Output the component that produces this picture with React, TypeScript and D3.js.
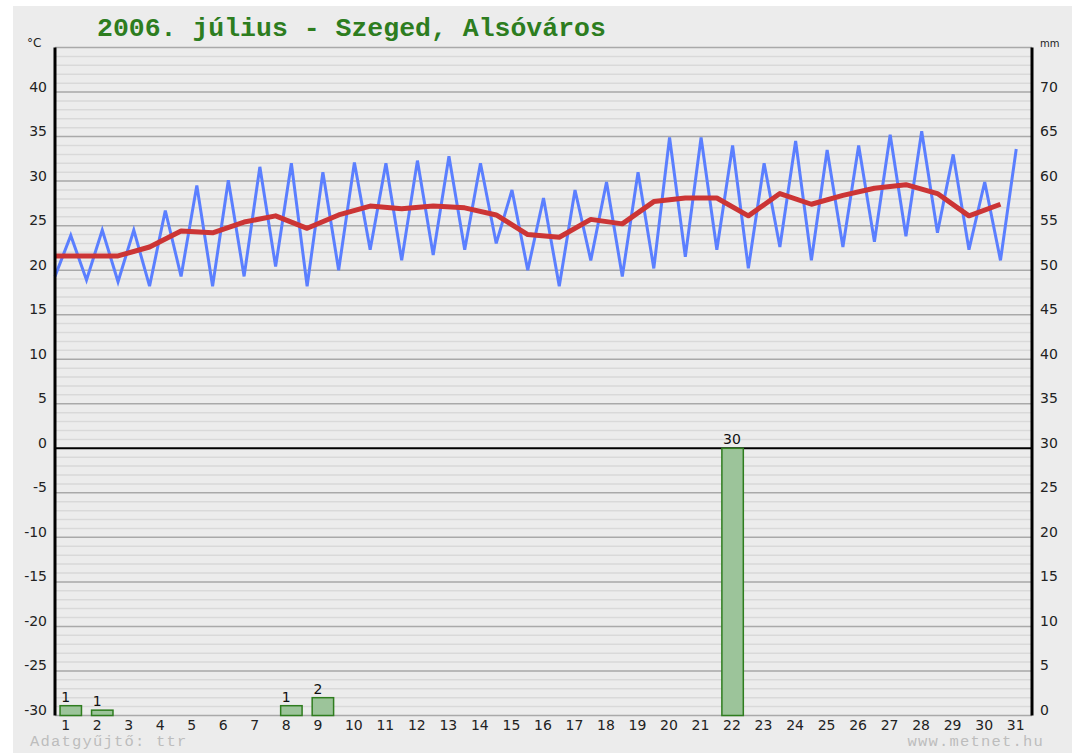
import React, { useEffect, useRef } from "react";
import * as d3 from "d3";

// 2006. július, Szeged Alsóváros - napi adatok
const days = [1, 2, 3, 4, 5, 6, 7, 8, 9, 10, 11, 12, 13, 14, 15, 16, 17, 18, 19, 20, 21, 22, 23, 24, 25, 26, 27, 28, 29, 30, 31];
const tMin = [19.3, 18.9, 18.7, 18.2, 19.3, 18.2, 19.3, 20.4, 18.2, 20.0, 22.3, 21.1, 21.7, 22.3, 23.0, 20.0, 18.2, 21.1, 19.3, 20.2, 21.5, 22.3, 20.2, 22.6, 21.1, 22.6, 23.2, 23.8, 24.2, 22.3, 21.1];
const tMax = [23.9, 24.5, 24.5, 26.7, 29.5, 30.1, 31.6, 32.0, 31.0, 32.1, 32.0, 32.3, 32.8, 32.0, 29.0, 28.1, 29.0, 29.9, 31.0, 34.9, 34.9, 34.0, 32.0, 34.5, 33.5, 34.0, 35.2, 35.6, 33.0, 29.9, 33.6];
const tMean = [21.6, 21.6, 21.6, 22.6, 24.4, 24.2, 25.4, 26.1, 24.7, 26.2, 27.2, 26.9, 27.2, 27.0, 26.2, 24.0, 23.7, 25.7, 25.2, 27.7, 28.1, 28.1, 26.1, 28.6, 27.4, 28.4, 29.2, 29.6, 28.6, 26.1, 27.4];
const rain = [1.1, 0.6, 0, 0, 0, 0, 0, 1.1, 2.0, 0, 0, 0, 0, 0, 0, 0, 0, 0, 0, 0, 0, 30.0, 0, 0, 0, 0, 0, 0, 0, 0, 0];

const tempTicks = [-30, -25, -20, -15, -10, -5, 0, 5, 10, 15, 20, 25, 30, 35, 40];
const rainTicks = [0, 5, 10, 15, 20, 25, 30, 35, 40, 45, 50, 55, 60, 65, 70];

const title = "2006. július - Szeged, Alsóváros";

function App() {
    const ref = useRef(null);

    useEffect(() => {
        const width = 1080;
        const height = 753;
        const plotLeft = 55;
        const plotRight = 1032;
        const plotTop = 47.5;
        const plotBottom = 715.5;

        const svg = d3.select(ref.current);
        svg.selectAll("*").remove();

        svg.append("rect").attr("width", width).attr("height", height).attr("fill", "#ffffff");
        svg.append("rect")
            .attr("x", 13).attr("y", 6)
            .attr("width", 1059).attr("height", height - 6)
            .attr("fill", "#ececec");

        const x = d3.scaleBand().domain(days).range([plotLeft, plotRight]);
        const y = d3.scaleLinear([-30, 45], [plotBottom, plotTop]);
        const yR = d3.scaleLinear([0, 75], [plotBottom, plotTop]);
        const bw = x.bandwidth();

        // grid
        const grid = svg.append("g");
        grid.selectAll(".minor")
            .data(d3.range(-30, 46).filter(v => v % 5 !== 0))
            .enter().append("line")
            .attr("x1", plotLeft).attr("x2", plotRight)
            .attr("y1", d => y(d)).attr("y2", d => y(d))
            .attr("stroke", "#d9d9d9").attr("stroke-width", 1.5);
        grid.selectAll(".major")
            .data(d3.range(-30, 46, 5).filter(v => v !== 0))
            .enter().append("line")
            .attr("x1", plotLeft).attr("x2", plotRight)
            .attr("y1", d => y(d)).attr("y2", d => y(d))
            .attr("stroke", "#a9a9a9").attr("stroke-width", 1.5);
        grid.append("line")
            .attr("x1", plotLeft).attr("x2", plotRight)
            .attr("y1", y(0)).attr("y2", y(0))
            .attr("stroke", "#000").attr("stroke-width", 2);

        // csapadék
        const rainData = days.map((d, i) => ({ day: d, mm: rain[i] })).filter(d => d.mm > 0);
        const barW = bw * 0.68;
        svg.append("g").selectAll("rect")
            .data(rainData)
            .enter().append("rect")
            .attr("x", d => x(d.day) + (bw - barW) / 2)
            .attr("y", d => yR(d.mm))
            .attr("width", barW)
            .attr("height", d => yR(0) - yR(d.mm))
            .attr("fill", "#9cc49a")
            .attr("stroke", "#2f7d1f")
            .attr("stroke-width", 1.5);
        svg.append("g").selectAll("text")
            .data(rainData)
            .enter().append("text")
            .attr("x", d => x(d.day) + bw / 2 - 9.5)
            .attr("y", d => yR(d.mm) - 4)
            .attr("font-family", "DejaVu Sans")
            .attr("font-size", 14)
            .attr("fill", "#111")
            .text(d => Math.round(d.mm));

        // hőmérséklet
        const zigzag = [];
        days.forEach((d, i) => {
            zigzag.push([x(d), tMin[i]]);
            zigzag.push([x(d) + bw / 2, tMax[i]]);
        });
        const line = d3.line().x(d => d[0]).y(d => y(d[1]));
        svg.append("path")
            .attr("fill", "none")
            .attr("stroke", "#5b7fff")
            .attr("stroke-width", 3)
            .attr("stroke-linejoin", "miter")
            .attr("d", line(zigzag));

        svg.append("path")
            .attr("fill", "none")
            .attr("stroke", "#cc3535")
            .attr("stroke-width", 5)
            .attr("stroke-linejoin", "round")
            .attr("d", line(days.map((d, i) => [x(d), tMean[i]])));

        // tengelyek
        svg.append("line")
            .attr("x1", plotLeft).attr("x2", plotLeft)
            .attr("y1", plotTop).attr("y2", plotBottom)
            .attr("stroke", "#000").attr("stroke-width", 3);
        svg.append("line")
            .attr("x1", plotRight).attr("x2", plotRight)
            .attr("y1", plotTop).attr("y2", plotBottom)
            .attr("stroke", "#000").attr("stroke-width", 3);

        const leftAxis = svg.append("g")
            .attr("transform", "translate(47,0)")
            .call(d3.axisLeft(y).tickValues(tempTicks).tickSize(0).tickPadding(0).tickFormat(d => String(d)));
        leftAxis.select(".domain").remove();
        leftAxis.selectAll("text").attr("dy", -1);

        const rightAxis = svg.append("g")
            .attr("transform", "translate(1040,0)")
            .call(d3.axisRight(yR).tickValues(rainTicks).tickSize(0).tickPadding(0).tickFormat(d => String(d)));
        rightAxis.select(".domain").remove();
        rightAxis.selectAll("text").attr("dy", -1);

        const bottomAxis = svg.append("g")
            .attr("transform", `translate(0,${plotBottom})`)
            .call(d3.axisBottom(x).tickSize(0).tickPadding(0));
        bottomAxis.select(".domain").remove();
        bottomAxis.selectAll("text")
            .attr("text-anchor", "start")
            .attr("x", -9.5)
            .attr("y", 14.5)
            .attr("dy", 0);

        svg.selectAll(".tick text")
            .attr("font-family", "DejaVu Sans")
            .attr("font-size", 14)
            .attr("fill", "#222");

        // feliratok
        svg.append("text")
            .attr("x", 97).attr("y", 36)
            .attr("font-family", "Liberation Mono")
            .attr("font-weight", "bold")
            .attr("font-size", 26.5)
            .attr("fill", "#2d7d1f")
            .text(title);
        svg.append("text")
            .attr("x", 27).attr("y", 47)
            .attr("font-family", "DejaVu Sans")
            .attr("font-size", 12)
            .attr("fill", "#222")
            .text("°C");
        svg.append("text")
            .attr("x", 1040).attr("y", 47)
            .attr("font-family", "DejaVu Sans")
            .attr("font-size", 10)
            .attr("fill", "#222")
            .text("mm");
        svg.append("text")
            .attr("x", 30).attr("y", 746)
            .attr("font-family", "Liberation Mono")
            .attr("font-size", 15.5)
            .attr("letter-spacing", 1.2)
            .attr("fill", "#bdbdbd")
            .text("Adatgyűjtő: ttr");
        svg.append("text")
            .attr("x", 1044).attr("y", 746)
            .attr("text-anchor", "end")
            .attr("font-family", "Liberation Mono")
            .attr("font-size", 15.5)
            .attr("letter-spacing", 1.2)
            .attr("fill", "#bdbdbd")
            .text("www.metnet.hu");
    }, []);

    return (
        <svg
            ref={ref}
            width={1080}
            height={753}
            style={{ position: "absolute", left: 0, top: 0, display: "block" }}
        />
    );
}

export default App;
